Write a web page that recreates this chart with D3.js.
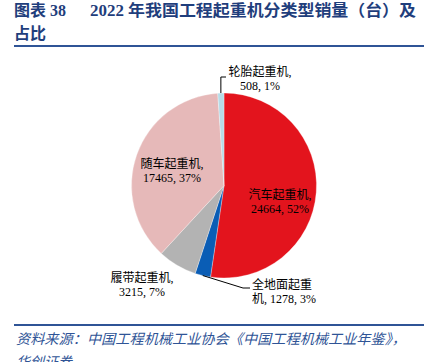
<!DOCTYPE html>
<html><head><meta charset="utf-8">
<script src="https://cdn.jsdelivr.net/npm/d3@7"></script>
<style>body{margin:0;background:#fff}svg{display:block}</style>
</head><body>
<svg id="c" width="424" height="362"></svg>
<script>
const categories = ["汽车起重机", "全地面起重机", "履带起重机", "随车起重机", "轮胎起重机"];
const values = [24664, 1278, 3215, 17465, 508];
const percents = ["52%", "3%", "7%", "37%", "1%"];
const colors = ["#E3141D", "#0A5DB5", "#B3B3B3", "#E6B9B9", "#B7DCE8"];

const svg = d3.select("#c");
const serif = "'Liberation Serif','DejaVu Serif','Noto Sans CJK SC',serif";
const titleColor = "#1F3E7C";

// title
svg.append("text").attr("x", 14).attr("y", 16).attr("fill", titleColor)
  .attr("font-family", serif).attr("font-size", 16).attr("font-weight", "bold").text("图表 38");
svg.append("text").attr("x", 90).attr("y", 16).attr("fill", titleColor)
  .attr("font-family", serif).attr("font-size", 16).attr("font-weight", "bold")
  .attr("textLength", 326).attr("lengthAdjust", "spacingAndGlyphs")
  .text("2022 年我国工程起重机分类型销量（台）及");
svg.append("text").attr("x", 14).attr("y", 39).attr("fill", titleColor)
  .attr("font-family", serif).attr("font-size", 16).attr("font-weight", "bold").text("占比");
svg.append("rect").attr("x", 14).attr("y", 45).attr("width", 410).attr("height", 2).attr("fill", "#2F5496");

// pie
const cx = 224, cy = 185.5, r = 92.5;
const pie = d3.pie().sort(null).value(d => d)(values);
const arc = d3.arc().innerRadius(0).outerRadius(r);
const g = svg.append("g").attr("transform", `translate(${cx},${cy})`);
g.selectAll("path").data(pie).join("path")
  .attr("d", arc).attr("fill", (d, i) => colors[i])
  .attr("stroke", "#fff").attr("stroke-width", 0.3);

// labels
const lab = svg.append("g").attr("font-family", serif).attr("font-size", 12).attr("fill", "#000").attr("text-anchor", "middle");
function label(x, y, l1, l2, anchor) {
  const t = lab.append("text").attr("text-anchor", anchor || "middle");
  t.append("tspan").attr("x", x).attr("y", y).text(l1);
  t.append("tspan").attr("x", x).attr("y", y + 14).text(l2);
}
const fmt = i => `${values[i]}, ${percents[i]}`;
label(280, 199, categories[0] + ",", fmt(0));
label(172, 168, categories[3] + ",", fmt(3));
label(142, 282, categories[2] + ",", fmt(2));
label(260, 76, categories[4] + ",", fmt(4));
label(252, 289, "全地面起重", "机, " + fmt(1), "start");

// leader lines
const a4 = (pie[4].startAngle + pie[4].endAngle) / 2;
const p4 = [cx + Math.sin(a4) * r, cy - Math.cos(a4) * r];
svg.append("path").attr("fill", "none").attr("stroke", "#000").attr("stroke-width", 1)
  .attr("d", `M${p4[0]},${p4[1]} L${p4[0]},77 L226,77`);
const a1 = (pie[1].startAngle + pie[1].endAngle) / 2;
const p1 = [cx + Math.sin(a1) * r, cy - Math.cos(a1) * r];
svg.append("path").attr("fill", "none").attr("stroke", "#000").attr("stroke-width", 1)
  .attr("d", `M${p1[0]},${p1[1]} L243,288 L250,288`);

// footer
svg.append("rect").attr("x", 14).attr("y", 324).attr("width", 410).attr("height", 2).attr("fill", "#2F5496");
svg.append("text").attr("x", 16).attr("y", 344).attr("fill", "#2F5496")
  .attr("font-family", serif).attr("font-size", 14).attr("font-style", "italic")
  .attr("textLength", 390).attr("lengthAdjust", "spacingAndGlyphs")
  .text("资料来源：中国工程机械工业协会《中国工程机械工业年鉴》，");
svg.append("text").attr("x", 16).attr("y", 367).attr("fill", "#2F5496")
  .attr("font-family", serif).attr("font-size", 14).attr("font-style", "italic")
  .text("华创证券");
</script>
</body></html>
